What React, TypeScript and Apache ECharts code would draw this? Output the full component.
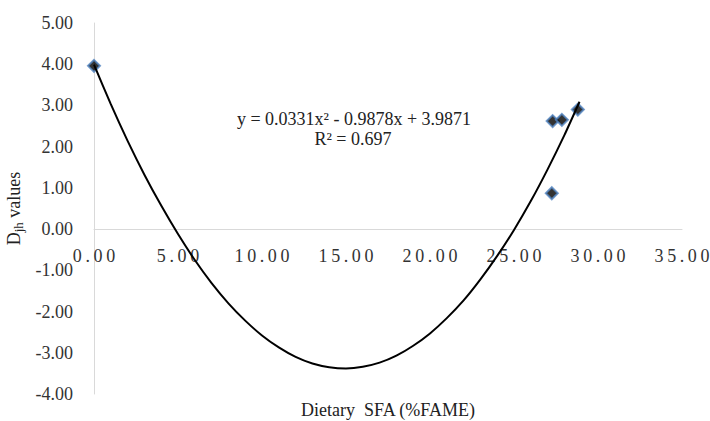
import React, { useEffect, useRef } from "react";
import * as echarts from "echarts";

// Observed data points (Dietary SFA %FAME, Djh value)
const pointX = [0.0, 27.25, 27.3, 27.85, 28.8];
const pointY = [3.96, 0.87, 2.62, 2.65, 2.9];

// Trendline
const curveX = [0, 1, 2, 3, 4, 5, 6, 7, 8, 9, 10, 11, 12, 13, 14, 15, 16, 17, 18, 19, 20, 21, 22, 23, 24, 25, 26, 27, 28, 28.9];
const curveY = [3.99, 3.03, 2.14, 1.32, 0.57, -0.12, -0.75, -1.31, -1.8, -2.22, -2.58, -2.87, -3.1, -3.26, -3.35, -3.38, -3.34, -3.24, -3.07, -2.83, -2.53, -2.16, -1.73, -1.22, -0.65, -0.02, 0.68, 1.45, 2.28, 3.09];

const equationText = "y = 0.0331x\u00b2 - 0.9878x + 3.9871";
const r2Text = "R\u00b2 = 0.697";
const xAxisTitle = "Dietary  SFA (%FAME)";

const FONT = "'Liberation Serif', 'Times New Roman', serif";

const spaced = (s: string) => s.split("").join("\u2009");

const GRID_TOP = 23;
const GRID_BOTTOM = 27;
const CHART_H = 421;
const Y_MIN = -4;
const Y_MAX = 5;

export default function App() {
  const ref = useRef<HTMLDivElement>(null);
  useEffect(() => {
    if (!ref.current) return;
    const chart = echarts.init(ref.current, undefined, { renderer: "svg" });
    const plotH = CHART_H - GRID_TOP - GRID_BOTTOM;
    const zeroFromBottom = (-Y_MIN / (Y_MAX - Y_MIN)) * plotH;
    chart.setOption({
      animation: false,
      backgroundColor: "#ffffff",
      grid: {
        left: 94,
        right: 28,
        top: GRID_TOP,
        bottom: GRID_BOTTOM,
        containLabel: false,
        outerBoundsMode: "none",
      },
      xAxis: {
        type: "value",
        min: 0,
        max: 35,
        interval: 5,
        offset: -zeroFromBottom,
        name: xAxisTitle,
        nameLocation: "middle",
        nameGap: 172,
        nameTextStyle: { fontFamily: FONT, fontSize: 18, color: "#222" },
        axisLine: { show: true, onZero: false, lineStyle: { color: "#d9d9d9", width: 1 } },
        axisTick: { show: false },
        splitLine: { show: false },
        axisLabel: {
          margin: 18,
          fontFamily: FONT,
          fontSize: 18,
          color: "#333",
          showMaxLabel: true,
          showMinLabel: true,
          formatter: (v: number) => spaced(v.toFixed(2)),
        },
      },
      yAxis: {
        type: "value",
        min: Y_MIN,
        max: Y_MAX,
        interval: 1,
        name: "{a|D}{sub|jh}{a| values}",
        nameLocation: "middle",
        nameRotate: 90,
        nameGap: 59,
        nameTextStyle: {
          fontFamily: FONT,
          color: "#222",
          rich: {
            a: { fontFamily: FONT, fontSize: 18, lineHeight: 22, color: "#222" },
            sub: {
              fontFamily: FONT,
              fontSize: 13,
              lineHeight: 22,
              color: "#222",
              verticalAlign: "bottom",
              padding: [6, 0, 0, 0],
            },
          },
        },
        axisLine: { show: true, onZero: false, lineStyle: { color: "#d9d9d9", width: 1 } },
        axisTick: { show: false },
        splitLine: { show: false },
        axisLabel: {
          margin: 21,
          fontFamily: FONT,
          fontSize: 18,
          color: "#333",
          formatter: (v: number) => v.toFixed(2),
        },
      },
      series: [
        {
          type: "scatter",
          data: pointX.map((x, i) => [x, pointY[i]]),
          symbol: "diamond",
          symbolSize: 12,
          itemStyle: { color: "#000000", borderColor: "#5083c0", borderWidth: 2 },
          z: 2,
        },
        {
          type: "line",
          data: curveX.map((x, i) => [x, curveY[i]]),
          smooth: 0.2,
          showSymbol: false,
          symbol: "none",
          lineStyle: { color: "#000000", width: 2 },
          z: 3,
        },
      ],
      graphic: [
        {
          type: "text",
          x: 354,
          y: 119,
          style: {
            text: equationText,
            fontFamily: FONT,
            fontSize: 18,
            fill: "#222",
            align: "center",
            verticalAlign: "middle",
          },
        },
        {
          type: "text",
          x: 353,
          y: 139,
          style: {
            text: r2Text,
            fontFamily: FONT,
            fontSize: 18,
            fill: "#222",
            align: "center",
            verticalAlign: "middle",
          },
        },
      ],
    });
    return () => chart.dispose();
  }, []);
  return (
    <div
      ref={ref}
      style={{ position: "absolute", left: 0, top: 0, width: 710, height: 421 }}
    />
  );
}
